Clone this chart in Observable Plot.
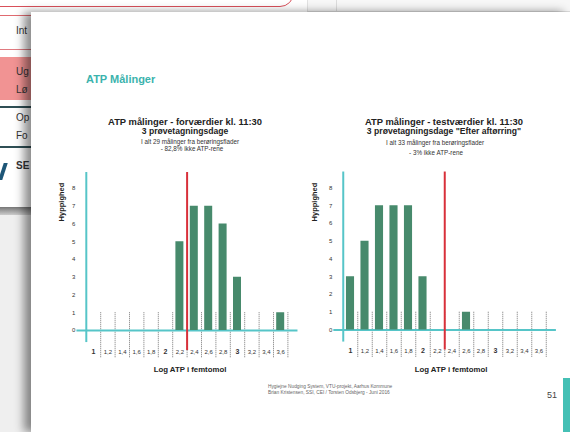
<!DOCTYPE html>
<html><head><meta charset="utf-8">
<script src="https://cdn.jsdelivr.net/npm/d3@7"></script>
<script src="https://cdn.jsdelivr.net/npm/@observablehq/plot@0.6"></script>
<style>
body{margin:0;width:570px;height:432px;overflow:hidden;background:#eeeeee;font-family:"Liberation Sans",Arial,Helvetica,sans-serif;}
#page{position:relative;width:570px;height:432px;overflow:hidden;background:#efefef;}
.a{position:absolute;}
.c{position:absolute;transform:translate(-50%,-50%);white-space:nowrap;line-height:1;}
.l{position:absolute;transform:translate(0,-50%);white-space:nowrap;line-height:1;}
.nav{position:absolute;left:16px;font-size:10px;color:#333;line-height:1;transform:translateY(-50%);}
</style></head>
<body><div id="page">
  <!-- background UI behind the slide -->
  <div class="a" style="left:0;top:0;width:307px;height:12px;background:#fff;"></div>
  <div class="a" style="left:-20px;top:-22px;width:312px;height:27px;border:1.5px solid #d9505a;border-radius:14px;background:#fff;"></div>
  <div class="a" style="left:307px;top:0;width:263px;height:11px;background:#f7f7f7;border-bottom:1.5px solid #dcdcdc;border-left:1px solid #e2e2e2;"></div>
  <div class="a" style="left:336px;top:0;width:1px;height:11px;background:#dcdcdc;"></div>
  <div class="a" style="left:0;top:12px;width:31px;height:198px;background:#fff;"></div>
  <div class="a" style="left:0;top:15px;width:31px;height:1px;background:#e06a70;"></div>
  <div class="nav" style="top:31px;">Int</div>
  <div class="a" style="left:0;top:49px;width:31px;height:1px;background:#e07a80;"></div>
  <div class="a" style="left:0;top:57px;width:31px;height:43px;background:#f19393;"></div>
  <div class="nav" style="top:72px;">Ug</div>
  <div class="nav" style="top:90px;">Lø</div>
  <div class="a" style="left:0;top:106px;width:31px;height:2px;background:#2f4f55;"></div>
  <div class="nav" style="top:118px;">Op</div>
  <div class="nav" style="top:136px;">Fo</div>
  <div class="a" style="left:0;top:146px;width:31px;height:2px;background:#2f4f55;"></div>
  <div class="nav" style="top:166px;font-weight:bold;">SE</div>
  <div class="a" style="left:1px;top:163px;width:4px;height:17px;background:#1d5677;transform:skewX(-18deg);"></div>
  <div class="a" style="left:0;top:207px;width:31px;height:8px;background:linear-gradient(#777,#ccc);"></div>

  <!-- slide -->
  <div class="a" style="left:31px;top:12px;width:539px;height:420px;background:#fff;box-shadow:-7px 0 9px rgba(0,0,0,0.45);"></div>

  <div class="l" style="left:86px;top:79px;font-size:11px;font-weight:bold;color:#3bb3ad;">ATP Målinger</div>

  <div class="c" style="left:185px;top:121.5px;font-size:9.4px;font-weight:bold;color:#222;">ATP målinger - forværdier kl. 11:30</div>
  <div class="c" style="left:185px;top:131.3px;font-size:8.6px;font-weight:bold;color:#222;">3 prøvetagningsdage</div>
  <div class="c" style="left:190px;top:142px;font-size:6.3px;color:#333;">I alt 29 målinger fra berøringsflader</div>
  <div class="c" style="left:192px;top:148.7px;font-size:6.3px;color:#333;">- 82,8% ikke ATP-rene</div>

  <div class="c" style="left:444px;top:121.5px;font-size:9.4px;font-weight:bold;color:#222;">ATP målinger - testværdier kl. 11:30</div>
  <div class="c" style="left:444px;top:131.3px;font-size:8.6px;font-weight:bold;color:#222;">3 prøvetagningsdage "Efter aftørring"</div>
  <div class="c" style="left:435px;top:142.5px;font-size:6.3px;color:#333;">I alt 33 målinger fra berøringsflader</div>
  <div class="c" style="left:436px;top:152.5px;font-size:6.3px;color:#333;">- 3% ikke ATP-rene</div>

  <div id="left" class="a" style="left:40px;top:160px;"></div>
  <div id="right" class="a" style="left:300px;top:160px;"></div>

  <div class="c" style="left:62px;top:202px;font-size:7.5px;font-weight:bold;color:#222;transform:translate(-50%,-50%) rotate(-90deg);">Hyppighed</div>
  <div class="c" style="left:315px;top:202px;font-size:7.5px;font-weight:bold;color:#222;transform:translate(-50%,-50%) rotate(-90deg);">Hyppighed</div>

  <div class="c" style="left:190px;top:370px;font-size:7.8px;font-weight:bold;color:#222;">Log ATP i femtomol</div>
  <div class="c" style="left:451px;top:370px;font-size:7.8px;font-weight:bold;color:#222;">Log ATP i femtomol</div>

  <div class="l" style="left:268px;top:387px;font-size:4.8px;color:#666;">Hygiejne Nudging System, VTU-projekt, Aarhus Kommune</div>
  <div class="l" style="left:268px;top:393px;font-size:4.8px;color:#666;">Brian Kristensen, SSI, CEI / Torsten Odsbjerg - Juni 2016</div>
  <div class="c" style="left:552px;top:395px;font-size:9px;color:#444;">51</div>
  <div class="a" style="left:563px;top:378px;width:7px;height:54px;background:#45c0b5;"></div>
</div>
<script>
// Data
const logATP = [1, 1.2, 1.4, 1.6, 1.8, 2, 2.2, 2.4, 2.6, 2.8, 3, 3.2, 3.4, 3.6];
const countsBefore = [0, 0, 0, 0, 0, 0, 5, 7, 7, 6, 3, 0, 0, 1];
const countsAfter  = [3, 5, 7, 7, 7, 3, 0, 0, 1, 0, 0, 0, 0, 0];
const threshold = 2.3;
const yTicks = [0, 1, 2, 3, 4, 5, 6, 7, 8];
const majorTicks = [1, 2, 3];
const minorTicks = [1.2, 1.4, 1.6, 1.8, 2.2, 2.4, 2.6, 2.8, 3.2, 3.4, 3.6];
const binHalf = 0.1;

const cyan = "#56c5c8", green = "#478a6c", red = "#d8303a";
const fmt = d => String(d).replace(".", ",");

function chart(counts, m) {
  const data = logATP.map((x, i) => ({x, n: counts[i]})).filter(d => d.n > 0);
  return Plot.plot({
    width: 270, height: 230,
    marginLeft: m.l, marginRight: m.r, marginTop: m.t, marginBottom: m.b,
    x: {domain: [logATP[0] - binHalf, logATP[logATP.length - 1] + binHalf]},
    y: {domain: [0, 8]},
    style: {background: "transparent", fontFamily: "Liberation Sans, Arial, sans-serif", color: "#333", overflow: "visible"},
    marks: [
      Plot.ruleX(logATP, {x: d => d + binHalf, y1: 1, y2: -1.55, stroke: "#777", strokeWidth: 1, strokeDasharray: "1,1"}),
      Plot.ruleY([0], {x1: 0.77, x2: 3.84, stroke: cyan, strokeWidth: 2}),
      Plot.rectY(data, {x1: d => d.x - binHalf, x2: d => d.x + binHalf, y: "n", fill: green, insetLeft: 3.2, insetRight: 3.2}),
      Plot.ruleX([logATP[0] - binHalf], {y1: -0.68, y2: 8.9, stroke: cyan, strokeWidth: 2}),
      Plot.ruleX([threshold], {y1: -1.13, y2: 8.9, stroke: red, strokeWidth: 2}),
      Plot.axisY({ticks: yTicks, tickSize: 0, tickPadding: 11, fontSize: 6, label: null}),
      Plot.axisX({ticks: minorTicks, tickFormat: fmt, tickSize: 0, tickPadding: 19, fontSize: 6, label: null}),
      Plot.axisX({ticks: majorTicks, tickFormat: fmt, tickSize: 0, tickPadding: 18.5, fontSize: 7, fontWeight: "bold", label: null})
    ]
  });
}

document.getElementById("left").append(chart(countsBefore, {l: 45.8, r: 22.6, t: 28, b: 60}));
document.getElementById("right").append(chart(countsAfter, {l: 42.75, r: 24.25, t: 27.5, b: 60.5}));
</script>
</body></html>
